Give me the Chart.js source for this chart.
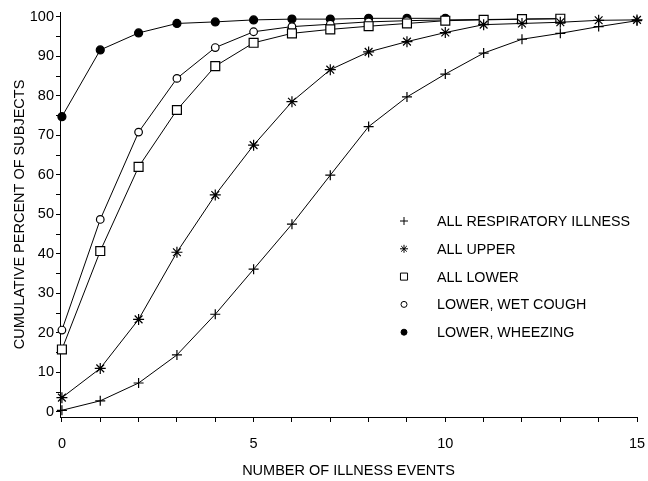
<!DOCTYPE html>
<html>
<head>
<meta charset="utf-8">
<script src="https://cdn.jsdelivr.net/npm/chart.js@4"></script>
<style>
  html, body { margin: 0; padding: 0; background: #fff; }
  #wrap { width: 648px; height: 481px; position: relative; }
</style>
</head>
<body>
<div id="wrap"><canvas id="myChart"></canvas></div>
<script>
// number of illness events (x)
const events = [0, 1, 2, 3, 4, 5, 6, 7, 8, 9, 10, 11, 12, 13, 14, 15];

// cumulative percent of subjects
const allRespiratory = [0.4, 2.8, 7.3, 14.4, 24.7, 36.1, 47.5, 59.9, 72.2, 79.7, 85.5, 90.8, 94.3, 95.8, 97.5, 99.0];
const allUpper = [3.6, 11.0, 23.4, 40.4, 54.9, 67.5, 78.5, 86.6, 91.1, 93.7, 96.0, 98.0, 98.3, 98.6, 99.1, 99.2];
const allLower = [15.8, 40.7, 62.0, 76.4, 87.5, 93.4, 95.8, 96.8, 97.6, 98.3, 99.0, 99.2, 99.4, 99.5];
const wetCough = [20.7, 48.7, 70.8, 84.4, 92.2, 96.2, 97.5, 98.1, 98.7, 99.0, 99.2, 99.3, 99.4, 99.5];
const wheezing = [74.7, 91.6, 95.9, 98.3, 98.7, 99.2, 99.4, 99.4, 99.6, 99.6, 99.6];

const seriesLabels = ['ALL RESPIRATORY ILLNESS', 'ALL UPPER', 'ALL LOWER', 'LOWER, WET COUGH', 'LOWER, WHEEZING'];

// labelled ticks, and every tick mark (minor ones unlabelled)
const xTickLabels = [0, 5, 10, 15];
const xTickMarks = events;
const yTickLabels = [0, 10, 20, 30, 40, 50, 60, 70, 80, 90, 100];
const yTickMarks = [0, 5, 10, 15, 20, 25, 30, 35, 40, 45, 50, 55, 60, 65, 70, 75, 80, 85, 90, 95, 100];

function pts(values) {
  return values.map((v, i) => ({x: events[i], y: v}));
}

const FONT = '"Liberation Sans", Arial, sans-serif';
const INK = '#000';

function series(label, values, style, radius, fill) {
  return {
    label: label,
    data: pts(values),
    borderColor: INK,
    borderWidth: 1,
    pointStyle: style,
    pointRadius: radius,
    pointHoverRadius: radius,
    pointBorderColor: INK,
    pointBorderWidth: 1.2,
    pointBackgroundColor: fill,
    tension: 0,
    clip: false,
  };
}

const data = {
  datasets: [
    series(seriesLabels[0], allRespiratory, 'cross', 5, INK),
    series(seriesLabels[1], allUpper, 'star', 5.5, INK),
    series(seriesLabels[2], allLower, 'rect', 6.3, '#fff'),
    series(seriesLabels[3], wetCough, 'circle', 3.8, '#fff'),
    series(seriesLabels[4], wheezing, 'circle', 4, INK),
  ]
};

// legend drawn inside the plot, lower right
const legendInPlot = {
  id: 'legendInPlot',
  afterDraw(chart) {
    const ctx = chart.ctx;
    ctx.save();
    ctx.font = '14.3px ' + FONT;
    ctx.textBaseline = 'middle';
    chart.data.datasets.forEach((ds, i) => {
      const y = 221 + i * 27.8;
      ctx.strokeStyle = INK;
      ctx.lineWidth = 1;
      ctx.fillStyle = ds.pointBackgroundColor;
      const r = ds.pointStyle === 'rect' ? 5 : (ds.pointStyle === 'circle' ? 3 : 4);
      Chart.helpers.drawPoint(ctx, {pointStyle: ds.pointStyle, radius: r, rotation: 0, borderWidth: 1}, 404, y);
      ctx.fillStyle = INK;
      ctx.fillText(ds.label, 437, y + 1);
    });
    ctx.restore();
  }
};

const config = {
  type: 'line',
  data: data,
  options: {
    responsive: true,
    maintainAspectRatio: false,
    animation: false,
    events: [],
    layout: {
      padding: {left: 0, right: 0, top: 12, bottom: 0}
    },
    plugins: {
      legend: {display: false},
      tooltip: {enabled: false}
    },
    scales: {
      x: {
        type: 'linear',
        min: -0.05,
        max: 15,
        afterBuildTicks(scale) { scale.ticks = xTickMarks.map(v => ({value: v})); },
        afterFit(scale) { scale.height = 64; scale.paddingRight = 11; scale.paddingLeft = 0; },
        border: {display: true, color: INK, width: 1},
        grid: {
          drawOnChartArea: false,
          drawTicks: true,
          tickLength: 5,
          tickColor: INK
        },
        ticks: {
          autoSkip: false,
          maxRotation: 0,
          padding: 13.5,
          color: INK,
          font: {family: FONT, size: 14.5},
          callback: (v) => xTickLabels.includes(v) ? String(v) : ''
        },
        title: {
          display: true,
          text: 'NUMBER OF ILLNESS EVENTS',
          color: INK,
          font: {family: FONT, size: 14.5},
          padding: {top: 0, bottom: 1.8}
        }
      },
      y: {
        type: 'linear',
        min: -1.3,
        max: 101.2,
        afterBuildTicks(scale) { scale.ticks = yTickMarks.map(v => ({value: v})); },
        afterFit(scale) { scale.width = 60; },
        border: {display: true, color: INK, width: 1},
        grid: {
          drawOnChartArea: false,
          drawTicks: true,
          tickLength: 4,
          tickColor: INK
        },
        ticks: {
          autoSkip: false,
          padding: 2,
          color: INK,
          font: {family: FONT, size: 14.5},
          callback: (v) => yTickLabels.includes(v) ? String(v) : ''
        },
        title: {
          display: true,
          text: 'CUMULATIVE PERCENT OF SUBJECTS',
          color: INK,
          font: {family: FONT, size: 14.5},
          padding: {top: 11.5, bottom: 0}
        }
      }
    }
  },
  plugins: [legendInPlot]
};

const myChart = new Chart(document.getElementById('myChart').getContext('2d'), config);
</script>
</body>
</html>
